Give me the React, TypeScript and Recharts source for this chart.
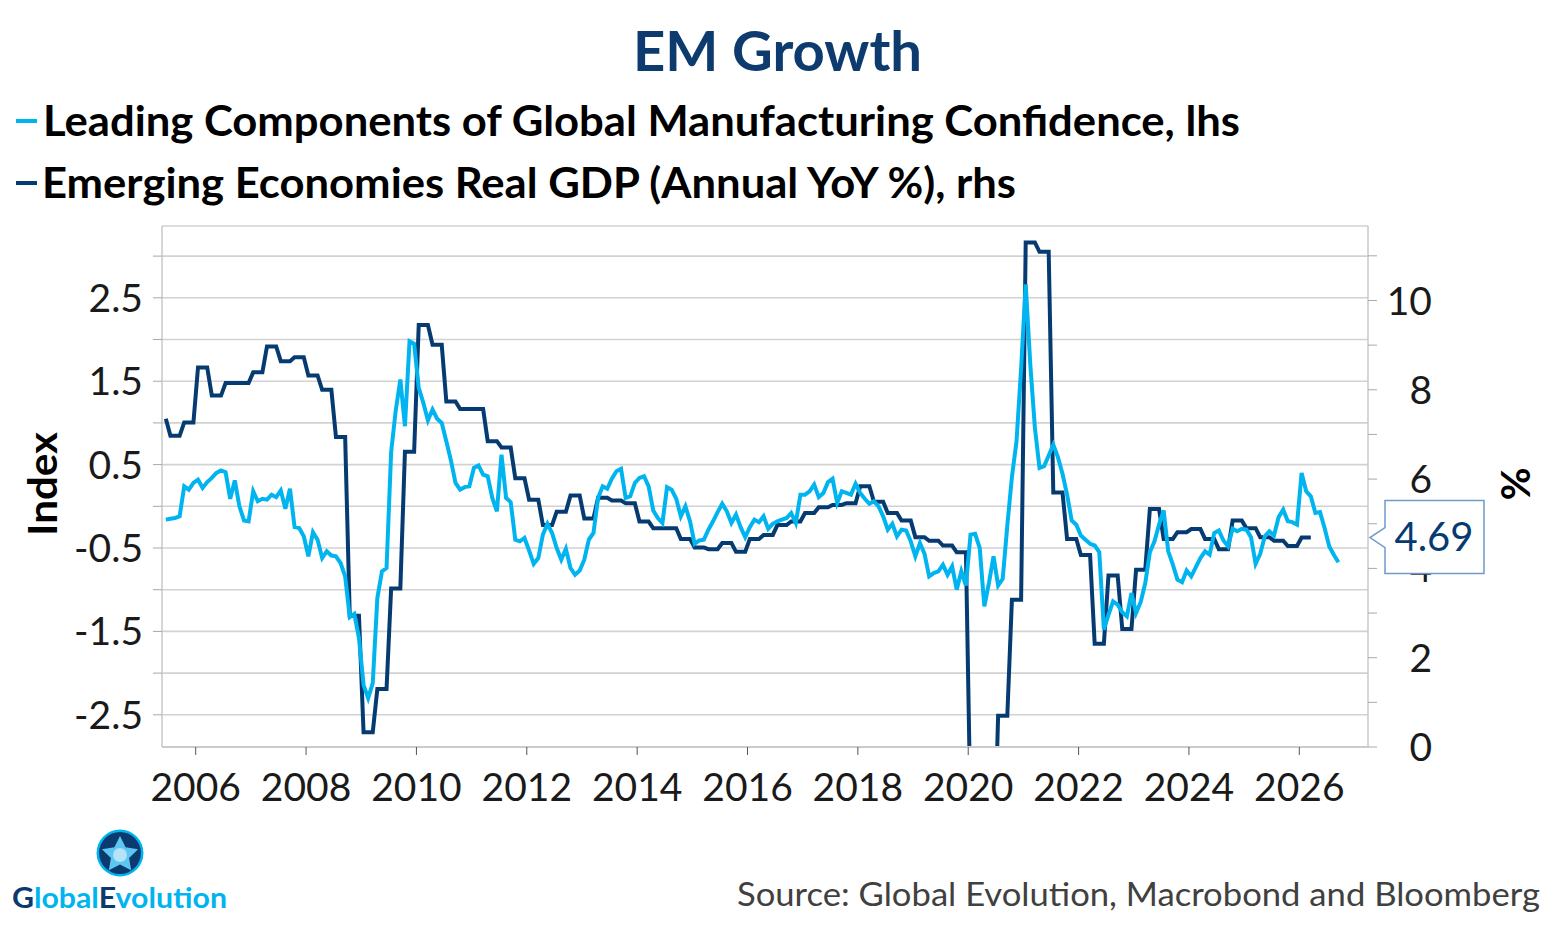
import { LineChart, Line, XAxis, YAxis, CartesianGrid, ReferenceDot } from "recharts";

const LIGHT = "#00B4EF";
const NAVY = "#063B72";
const FONT = "Lato, 'Open Sans', sans-serif";

// Leading components of global manufacturing confidence (index), monthly from Jun 2005
const confidence: number[] = [
  // 2005 (Jun-Dec)
  -0.16, -0.15, -0.14, -0.12, 0.24, 0.2, 0.28,
  // 2006
  0.32, 0.22, 0.29, 0.34, 0.4, 0.43, 0.41, 0.09, 0.31, 0.0, -0.17, -0.18,
  // 2007
  0.18, 0.06, 0.09, 0.08, 0.14, 0.11, 0.19, -0.03, 0.21, -0.25, -0.26, -0.36,
  // 2008
  -0.6, -0.31, -0.4, -0.62, -0.54, -0.59, -0.6, -0.68, -0.84, -1.33, -1.29, -1.58,
  // 2009
  -2.14, -2.3, -2.12, -1.1, -0.78, -0.74, 0.65, 1.15, 1.52, 0.96, 1.98, 1.95,
  // 2010
  1.42, 1.24, 1.03, 1.16, 1.05, 1.0, 0.78, 0.55, 0.28, 0.2, 0.23, 0.24,
  // 2011
  0.46, 0.49, 0.38, 0.36, 0.1, -0.06, 0.62, 0.1, 0.05, -0.4, -0.42, -0.38,
  // 2012
  -0.53, -0.69, -0.62, -0.34, -0.21, -0.32, -0.5, -0.64, -0.51, -0.74, -0.82, -0.77,
  // 2013
  -0.64, -0.4, -0.32, 0.1, 0.24, 0.21, 0.33, 0.42, 0.45, 0.1, 0.12, 0.28,
  // 2014
  0.34, 0.36, 0.24, -0.05, -0.14, -0.2, 0.23, 0.2, 0.09, -0.12, 0.0, -0.18,
  // 2015
  -0.45, -0.41, -0.4, -0.28, -0.18, -0.07, 0.03, -0.06, -0.2, -0.1, -0.25, -0.37,
  // 2016
  -0.25, -0.16, -0.19, -0.12, -0.27, -0.21, -0.18, -0.16, -0.14, -0.08, -0.2, 0.14,
  // 2017
  0.14, 0.18, 0.26, 0.11, 0.16, 0.29, 0.33, 0.04, 0.18, 0.16, 0.14, 0.27,
  // 2018
  0.16, 0.09, 0.03, 0.06, 0.0, -0.12, -0.28, -0.21, -0.36, -0.28, -0.29, -0.42,
  // 2019
  -0.6, -0.44, -0.57, -0.84, -0.8, -0.78, -0.7, -0.82, -0.72, -1.0, -0.78, -0.95,
  // 2020
  -0.34, -0.33, -0.5, -1.2, -0.92, -0.6, -0.95, -0.87, -0.23, 0.35, 0.78, 1.65,
  // 2021
  2.66, 1.7, 0.94, 0.46, 0.48, 0.61, 0.74, 0.59, 0.39, 0.14, -0.17, -0.22,
  // 2022
  -0.35, -0.4, -0.45, -0.47, -0.55, -1.48, -1.3, -1.14, -1.18, -1.27, -1.32, -1.04,
  // 2023
  -1.28, -1.15, -0.92, -0.55, -0.42, -0.22, -0.05, -0.54, -0.7, -0.88, -0.91, -0.77,
  // 2024
  -0.84, -0.73, -0.62, -0.54, -0.58, -0.32, -0.29, -0.41, -0.48, -0.27, -0.3, -0.27,
  // 2025
  -0.28, -0.37, -0.69, -0.57, -0.36, -0.3, -0.35, -0.13, -0.04, -0.18, -0.19, -0.22,
  // 2026 (Jan-Sep)
  0.4, 0.18, 0.12, -0.08, -0.07, -0.26, -0.48, -0.58, -0.67,
];

// Emerging economies real GDP, annual YoY %, quarterly from 2005 Q2
const gdpQuarterly: number[] = [
  7.35, 6.97, 7.27,
  8.5, 7.87, 8.15, 8.15,
  8.39, 8.97, 8.64, 8.73,
  8.32, 8.0, 6.94, 2.94,
  0.33, 1.3, 3.55, 6.61,
  9.45, 9.01, 7.74, 7.57,
  7.57, 6.85, 6.71, 6.02,
  5.54, 4.97, 5.27, 5.63,
  5.12, 5.58, 5.52, 5.46,
  5.05, 4.9, 4.9, 4.66,
  4.47, 4.43, 4.57, 4.37,
  4.66, 4.75, 4.97, 5.05,
  5.24, 5.37, 5.42, 5.46,
  5.84, 5.49, 5.24, 5.07,
  4.7, 4.62, 4.51, 4.36,
  -1.5, -3.0, 0.7, 3.3,
  11.3, 11.09, 5.7, 4.66,
  4.3, 2.31, 3.84, 2.64,
  3.97, 5.33, 4.66, 4.81,
  4.88, 4.66, 4.43, 5.07,
  4.9, 4.7, 4.62, 4.5,
  4.69,
];

const FIRST_YEAR = 2005;
const FIRST_MONTH = 5; // June, 0-based

const yearTicks = [2006, 2008, 2010, 2012, 2014, 2016, 2018, 2020, 2022, 2024, 2026];
const indexTicks = [-2.5, -2, -1.5, -1, -0.5, 0, 0.5, 1, 1.5, 2, 2.5, 3];
const pctTicks = [0, 1, 2, 3, 4, 5, 6, 7, 8, 9, 10, 11];

const X_DOMAIN: [number, number] = [2005.389, 2027.245];
const INDEX_DOMAIN: [number, number] = [-2.886, 3.361];
const PCT_DOMAIN: [number, number] = [0, 11.668];

const W = 1559;
const H = 935;
// plot box: x 162..1368, y 226..747
const PLOT_MARGIN = { top: 226, right: 191, bottom: 188, left: 162 };

// monthly rows; quarterly GDP is held flat across the months of its quarter
const rows = confidence.map((conf, i) => {
  const monthIdx = FIRST_MONTH + i;
  const year = FIRST_YEAR + Math.floor(monthIdx / 12);
  const month = monthIdx % 12;
  const q = (year - FIRST_YEAR) * 4 + Math.floor(month / 3) - Math.floor(FIRST_MONTH / 3);
  return {
    t: year + (month + 0.5) / 12,
    conf,
    gdp: q < gdpQuarterly.length ? gdpQuarterly[q] : null,
  };
});

const lastGdp = gdpQuarterly[gdpQuarterly.length - 1];

const tickText = { fontFamily: FONT, fontSize: 39, fill: "#1A1A1A" };

const IndexTick = (props: any) => {
  const { x, y, payload } = props;
  const v = payload.value as number;
  if (Math.abs(Math.round(v * 2)) % 2 === 0) return <g />;
  return (
    <text x={x} y={y} dy="0.36em" textAnchor="end" {...tickText}>
      {v.toFixed(1)}
    </text>
  );
};

const PctTick = (props: any) => {
  const { x, y, payload } = props;
  const v = payload.value as number;
  if (v % 2 !== 0) return <g />;
  return (
    <text x={x} y={y} dy="0.36em" textAnchor="end" {...tickText}>
      {v}
    </text>
  );
};

const YearTick = (props: any) => {
  const { x, y, payload } = props;
  return (
    <text x={x} y={y} dy="0.36em" textAnchor="middle" {...tickText}>
      {payload.value}
    </text>
  );
};

// value callout hanging off the right axis
const Callout = (props: any) => {
  const { cx, cy } = props;
  const path = `M${cx + 17},${cy - 37} H${cx + 116} V${cy + 36} H${cx + 17} V${cy + 10} L${cx + 2},${cy} L${cx + 17},${cy - 10} Z`;
  return (
    <g>
      <path d={path} fill="#FFFFFF" stroke="#6F9BCB" strokeWidth={1.5} />
      <text x={cx + 66} y={cy - 1} dy="0.36em" textAnchor="middle" fontFamily={FONT} fontSize={40} fill={NAVY}>
        {lastGdp.toFixed(2)}
      </text>
    </g>
  );
};

const Star = ({ cx, cy, r }: { cx: number; cy: number; r: number }) => {
  const pts: string[] = [];
  for (let i = 0; i < 10; i++) {
    const a = -Math.PI / 2 + (i * Math.PI) / 5;
    const rr = i % 2 === 0 ? r : r * 0.5;
    pts.push(`${cx + rr * Math.cos(a)},${cy + rr * Math.sin(a)}`);
  }
  return <polygon points={pts.join(" ")} fill="#5CC7F1" />;
};

const layer = { position: "absolute" as const, left: 0, top: 0 };

export default function App() {
  return (
    <div style={{ ...layer, width: W, height: H, background: "#FFFFFF" }}>
      <div style={layer}>
        <LineChart
          width={W}
          height={H}
          data={rows}
          margin={{ top: 226, right: 81, bottom: 128, left: 22 }}
        >
          <CartesianGrid yAxisId="left" vertical={false} stroke="#D2D2D2" strokeWidth={1.6} />
          <XAxis
            type="number"
            dataKey="t"
            domain={X_DOMAIN}
            ticks={yearTicks}
            allowDataOverflow
            height={60}
            tickSize={8}
            tickMargin={32}
            axisLine={{ stroke: "#CBCBCB", strokeWidth: 2 }}
            tickLine={{ stroke: "#555555" }}
            tick={YearTick}
          />
          <YAxis
            yAxisId="left"
            orientation="left"
            width={140}
            domain={INDEX_DOMAIN}
            ticks={indexTicks}
            allowDataOverflow
            tickSize={9}
            tickMargin={10}
            axisLine={{ stroke: "#C8C8C8", strokeWidth: 1.5 }}
            tickLine={{ stroke: "#A8A8A8" }}
            tick={IndexTick}
          />
          <YAxis
            yAxisId="right"
            orientation="right"
            width={110}
            domain={PCT_DOMAIN}
            ticks={pctTicks}
            allowDataOverflow
            tickSize={9}
            tickMargin={55}
            axisLine={{ stroke: "#C8C8C8", strokeWidth: 1.5 }}
            tickLine={{ stroke: "#A8A8A8" }}
            tick={PctTick}
          />
          <Line
            yAxisId="right"
            type="linear"
            dataKey="gdp"
            stroke={NAVY}
            strokeWidth={4}
            dot={false}
            isAnimationActive={false}
          />
          <Line
            yAxisId="left"
            type="linear"
            dataKey="conf"
            stroke={LIGHT}
            strokeWidth={4}
            dot={false}
            isAnimationActive={false}
          />
        </LineChart>
      </div>

      {/* top layer with the same scales, so the callout sits over the axis labels */}
      <div style={layer}>
        <LineChart width={W} height={H} data={rows} margin={PLOT_MARGIN}>
          <XAxis type="number" dataKey="t" domain={X_DOMAIN} allowDataOverflow hide />
          <YAxis yAxisId="right" orientation="right" domain={PCT_DOMAIN} allowDataOverflow hide />
          <ReferenceDot
            yAxisId="right"
            x={X_DOMAIN[1]}
            y={lastGdp}
            ifOverflow="visible"
            shape={Callout}
          />
        </LineChart>
      </div>

      <svg width={W} height={H} style={{ ...layer, pointerEvents: "none" }} fontFamily={FONT}>
        <text x={777.5} y={71} textAnchor="middle" fontSize={56} fontWeight={700} fill="#0D3B6E" textLength={289} lengthAdjust="spacingAndGlyphs">
          EM Growth
        </text>

        <line x1={16} x2={37} y1={121} y2={121} stroke={LIGHT} strokeWidth={4} />
        <text x={43} y={136} fontSize={42} fontWeight={700} fill="#000000" textLength={1197} lengthAdjust="spacingAndGlyphs">
          Leading Components of Global Manufacturing Confidence, lhs
        </text>
        <line x1={16} x2={37} y1={183} y2={183} stroke={NAVY} strokeWidth={4} />
        <text x={42} y={198} fontSize={42} fontWeight={700} fill="#000000" textLength={974} lengthAdjust="spacingAndGlyphs">
          Emerging Economies Real GDP (Annual YoY %), rhs
        </text>

        <text x={57} y={484} transform="rotate(-90 57 484)" textAnchor="middle" fontSize={40} fontWeight={700} fill="#000000" textLength={104} lengthAdjust="spacingAndGlyphs">
          Index
        </text>
        <text x={1501} y={484} transform="rotate(90 1501 484)" textAnchor="middle" fontSize={40} fontWeight={700} fill="#000000">
          %
        </text>

        <text x={1540} y={906} textAnchor="end" fontSize={32} fill="#404040" textLength={803} lengthAdjust="spacingAndGlyphs">
          Source: Global Evolution, Macrobond and Bloomberg
        </text>

        <circle cx={120} cy={853} r={23.5} fill={LIGHT} />
        <circle cx={120} cy={853} r={21} fill="#0B3A6E" />
        <Star cx={120} cy={855} r={19} />
        <circle cx={120} cy={855} r={7} fill="#B5E3F8" />
        <text x={12} y={908} fontSize={28} fontWeight={700} fill={LIGHT} textLength={215} lengthAdjust="spacingAndGlyphs">
          <tspan fill="#0B3A6E">G</tspan>lobal<tspan fill="#0B3A6E">E</tspan>volution
        </text>
      </svg>
    </div>
  );
}
